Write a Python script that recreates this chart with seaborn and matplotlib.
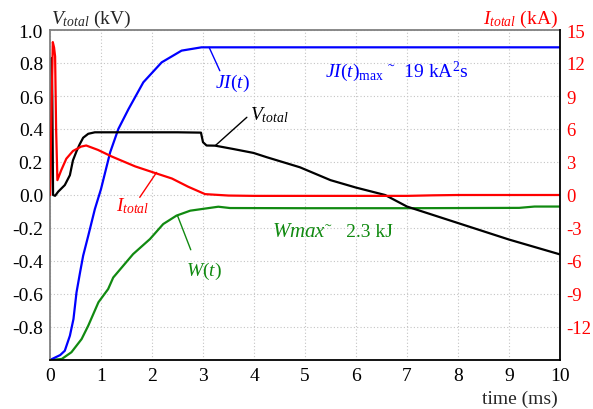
import matplotlib
matplotlib.use("Agg")
import matplotlib.pyplot as plt
import seaborn as sns
import pandas as pd

# ---- data ----
# V_total in kV (left axis)
t_v = [0, 0.02, 0.03, 0.045, 0.06, 0.1, 0.16, 0.29, 0.39, 0.45, 0.52, 0.58, 0.65,
       0.75, 0.88, 1.5, 2.0, 2.5, 2.96, 3.0, 3.07, 3.24, 3.59, 3.99, 4.25, 4.57, 4.9,
       5.5, 6.0, 6.57, 7.0, 7.5, 8.0, 8.5, 9.0, 9.5, 10.0]
v_total = [0.0, 0.5, 0.83, 0.6, 0.0, -0.005, 0.02, 0.06, 0.12, 0.21, 0.265, 0.306, 0.347,
           0.371, 0.38, 0.38, 0.38, 0.38, 0.378, 0.32, 0.30, 0.299, 0.279, 0.255, 0.229, 0.199, 0.168,
           0.09, 0.045, 0.0, -0.07, -0.12, -0.17, -0.22, -0.27, -0.315, -0.36]

# I_total in kA (right axis)
t_i = [0, 0.04, 0.055, 0.08, 0.1, 0.12, 0.145, 0.22, 0.32, 0.45, 0.61, 0.71, 0.94, 1.21,
       1.67, 2.06, 2.39, 2.71, 3.04, 3.5, 4.0, 5.0, 6.0, 7.0, 7.5, 8.0, 9.0, 10.0]
i_total = [0.0, 10.0, 13.9, 13.4, 12.6, 6.0, 1.35, 2.25, 3.3, 4.0, 4.4, 4.5, 4.1, 3.5,
           2.6, 2.0, 1.5, 0.75, 0.08, -0.05, -0.08, -0.08, -0.08, -0.08, -0.03, 0.0, 0.0, 0.0]

# JI(t) (plotted in left-axis units)
t_ji = [0, 0.1, 0.2, 0.29, 0.39, 0.46, 0.52, 0.59, 0.65, 0.75, 0.88, 1.0, 1.18, 1.34,
        1.54, 1.83, 2.19, 2.58, 2.97, 10.0]
ji = [-1.0, -0.985, -0.97, -0.944, -0.853, -0.752, -0.59, -0.468, -0.368, -0.247, -0.085,
      0.036, 0.259, 0.40, 0.521, 0.683, 0.804, 0.875, 0.895, 0.895]

# W(t) (plotted in left-axis units)
t_w = [0, 0.23, 0.42, 0.62, 0.75, 0.95, 1.14, 1.24, 1.63, 1.96, 2.22, 2.48, 2.75, 3.07,
       3.3, 3.53, 5.0, 7.0, 9.2, 9.5, 10.0]
w = [-1.0, -0.994, -0.953, -0.873, -0.792, -0.65, -0.57, -0.50, -0.358, -0.267, -0.176,
     -0.125, -0.095, -0.081, -0.071, -0.079, -0.08, -0.08, -0.078, -0.07, -0.07]

x_ticks = list(range(0, 11))
left_ticks = [1.0, 0.8, 0.6, 0.4, 0.2, 0.0, -0.2, -0.4, -0.6, -0.8]
right_ticks = [15, 12, 9, 6, 3, 0, -3, -6, -9, -12]

BLUE = "#0000ff"
RED = "#ff0000"
GREEN = "#118a11"

sns.set_theme(style="white")
plt.rcParams["font.family"] = ["Liberation Serif", "DejaVu Serif"]
plt.rcParams["mathtext.fontset"] = "custom"
plt.rcParams["mathtext.rm"] = "Liberation Serif"
plt.rcParams["mathtext.it"] = "Liberation Serif:italic"
plt.rcParams["axes.unicode_minus"] = False

fig = plt.figure(figsize=(5.93, 4.10), dpi=100)
ax = fig.add_axes([50 / 593, 1 - 361 / 410, 510 / 593, 330 / 410])
ax2 = ax.twinx()

df_v = pd.DataFrame({"t": t_v, "v": v_total})
df_i = pd.DataFrame({"t": t_i, "i": i_total})
df_ji = pd.DataFrame({"t": t_ji, "ji": ji})
df_w = pd.DataFrame({"t": t_w, "w": w})

lw = 1.6
sns.lineplot(data=df_w, x="t", y="w", ax=ax, color=GREEN, lw=lw, estimator=None, sort=False)
sns.lineplot(data=df_ji, x="t", y="ji", ax=ax, color=BLUE, lw=lw, estimator=None, sort=False)
sns.lineplot(data=df_v, x="t", y="v", ax=ax, color="black", lw=lw, estimator=None, sort=False)
sns.lineplot(data=df_i, x="t", y="i", ax=ax2, color=RED, lw=lw, estimator=None, sort=False)

ax.set_xlim(0, 10)
ax.set_ylim(-1, 1)
ax2.set_ylim(-15, 15)
ax.set_xticks(x_ticks)
ax.set_yticks(left_ticks)
ax.set_yticklabels([f"{v:.1f}" for v in left_ticks])
ax2.set_yticks(right_ticks)
ax2.set_yticklabels([str(v) for v in right_ticks])
ax.set_xlabel("")
ax.set_ylabel("")
ax2.set_ylabel("")

ax.grid(True, linestyle=(0, (1, 2)), color="#c4c4c4", lw=0.8)
ax.tick_params(axis="both", length=0, labelsize=14, colors="black")
ax.tick_params(axis="x", pad=5)
ax.tick_params(axis="y", pad=5)
ax2.tick_params(axis="y", length=0, labelsize=13.5, colors=RED, pad=4.5)

for s in ["left", "top"]:
    ax.spines[s].set_color("#808080")
    ax.spines[s].set_linewidth(1.3)
ax.spines["bottom"].set_color("black")
ax.spines["bottom"].set_linewidth(1.3)
ax.spines["right"].set_visible(False)
for s in ["left", "top", "bottom"]:
    ax2.spines[s].set_visible(False)
ax2.spines["right"].set_color("black")
ax2.spines["right"].set_linewidth(1.3)

# axis titles
fig.text(51 / 593, 1 - 19 / 410, r"$V_{total}$ (kV)", fontsize=14, ha="left", va="center")
fig.text(558 / 593, 1 - 19 / 410, r"$I_{total}$ (kA)", fontsize=14, ha="right", va="center",
         color=RED)
fig.text(558 / 593, 1 - 399 / 410, "time (ms)", fontsize=14, ha="right", va="center")

arrow = dict(arrowstyle="-", lw=1.0, shrinkA=0, shrinkB=0)

# JI(t)
ax.annotate("", xy=(3.12, 0.895), xytext=(3.33, 0.753), arrowprops={**arrow, "color": BLUE})
ax.text(3.57, 0.685, r"$JI(t)$", color=BLUE, fontsize=14, ha="center", va="center")
ax.text(5.39, 0.752, r"$JI(t)_{\mathrm{max}}$" + " ˜  19 kA$^{2}$s", color=BLUE, fontsize=14,
        ha="left", va="center")

# V_total
ax.annotate("", xy=(3.24, 0.299), xytext=(3.86, 0.471), arrowprops={**arrow, "color": "black"})
ax.text(3.92, 0.49, r"$V_{total}$", color="black", fontsize=14, ha="left", va="center")

# I_total
ax.annotate("", xy=(2.09, 0.137), xytext=(1.76, -0.014), arrowprops={**arrow, "color": RED})
ax.text(1.63, -0.06, r"$I_{total}$", color=RED, fontsize=14, ha="center", va="center")

# W(t)
ax.annotate("", xy=(2.50, -0.125), xytext=(2.76, -0.332), arrowprops={**arrow, "color": GREEN})
ax.text(3.02, -0.46, r"$W(t)$", color=GREEN, fontsize=14, ha="center", va="center")
ax.text(4.35, -0.224, r"$Wmax$", color=GREEN, fontsize=15, ha="left", va="center")
ax.text(5.40, -0.224, "˜   2.3 kJ", color=GREEN, fontsize=14, ha="left", va="center")

fig.savefig("out.png", dpi=100)
